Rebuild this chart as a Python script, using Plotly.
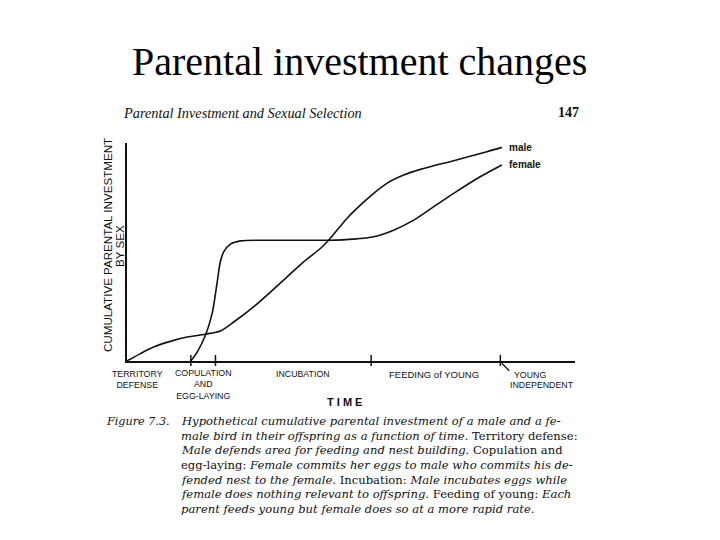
import plotly.graph_objects as go

# ---- data (time units: 0 = territory defense start, 100 = young independent) ----
male_x = [0, 3.6, 7.1, 11.6, 16.1, 21.0, 25.0, 28.6, 33.9, 42.9, 47.3, 51.8, 54.0, 58.9, 62.5, 66.1, 69.6, 74.1, 78.6, 87.5, 96.4, 100.4]
male_y = [0, 3.4, 6.4, 9.0, 11.0, 12.3, 13.8, 17.9, 24.8, 38.6, 45.5, 51.6, 55.4, 65.4, 71.5, 76.9, 81.5, 85.3, 87.9, 91.9, 96.0, 98.0]
female_x = [17.1, 18.8, 21.0, 22.8, 24.1, 25.0, 25.9, 27.7, 30.4, 38.4, 54.0, 60.7, 66.1, 71.4, 76.8, 82.1, 87.5, 94.6, 100.4]
female_y = [0, 4.1, 11.8, 21.7, 35.5, 45.5, 50.1, 53.6, 55.1, 55.4, 55.4, 55.9, 57.0, 60.0, 64.6, 70.7, 76.9, 84.5, 89.9]
tick_times = [17.1, 23.7, 65.4, 100]
series_labels = ["male", "female"]

OFF = 8  # default page body margin
W, H = 720 - 2 * OFF, 540 - 2 * OFF
ML, MT = 127 - OFF, 143 - OFF
PW, PH = 448, 218
MR = W - ML - PW
MB = H - MT - PH


def px(x, y):
    x -= OFF
    y -= OFF
    return (x - ML) / PW, (MT + PH - y) / PH


fig = go.Figure()
fig.add_trace(go.Scatter(x=male_x, y=male_y, mode="lines", line=dict(color="#111", width=1.6, shape="spline", smoothing=0.8),
                         name=series_labels[0], showlegend=False, hoverinfo="skip"))
fig.add_trace(go.Scatter(x=female_x, y=female_y, mode="lines", line=dict(color="#111", width=1.6, shape="spline", smoothing=0.8),
                         name=series_labels[1], showlegend=False, hoverinfo="skip"))

shapes = []
y_lo = -5 / PH
y_hi = 6 / PH
for t in tick_times:
    shapes.append(dict(type="line", xref="x", yref="paper", x0=t, x1=t, y0=y_lo, y1=y_hi,
                       line=dict(color="#111", width=1.5)))
# pointer to YOUNG INDEPENDENT
p0 = px(501.7, 363.3)
p1 = px(509.3, 370.7)
shapes.append(dict(type="line", xref="paper", yref="paper", x0=p0[0], y0=p0[1], x1=p1[0], y1=p1[1],
                   line=dict(color="#111", width=1.3)))

ann = []


def add(text, x, y, size, family="Liberation Sans", xanchor="center", yanchor="middle", align="center", angle=0, color="#111"):
    ax, ay = px(x, y)
    ann.append(dict(text=text, x=ax, y=ay, xref="paper", yref="paper", showarrow=False,
                    xanchor=xanchor, yanchor=yanchor, align=align, textangle=angle,
                    font=dict(size=size, family=family, color=color)))


serif = "Liberation Serif"
cap_font = "DejaVu Serif"
add("Parental investment changes", 359, 62, 40, family=serif, color="#000")
add("<i>Parental Investment and Sexual Selection</i>", 121, 113, 14.3, family=serif, xanchor="left")
add("<b>147</b>", 581, 113, 14, family=serif, xanchor="right")

add("CUMULATIVE PARENTAL INVESTMENT", 107, 245, 11.6, angle=-90)
add("BY SEX", 119.5, 246.5, 11.6, angle=-90)
add("<b>male</b>", 507, 147, 10, xanchor="left")
add("<b>female</b>", 507, 164, 10, xanchor="left")

add("TERRITORY<br>DEFENSE", 137, 379, 8.8)
add("COPULATION<br>AND<br>EGG-LAYING", 203, 384, 8.8)
add("INCUBATION", 303, 374, 8.8)
add("FEEDING of YOUNG", 434, 374, 9.5)
add("YOUNG", 512, 375, 8.8, xanchor="left")
add("INDEPENDENT", 508, 385, 8.8, xanchor="left")
add("<b>T I M E</b>", 344, 402, 11)

caption = [
    "<i>Hypothetical cumulative parental investment of a male and a fe-</i>",
    "<i>male bird in their offspring as a function of time.</i> Territory defense:",
    "<i>Male defends area for feeding and nest building.</i> Copulation and",
    "egg-laying: <i>Female commits her eggs to male who commits his de-</i>",
    "<i>fended nest to the female.</i> Incubation: <i>Male incubates eggs while</i>",
    "<i>female does nothing relevant to offspring.</i> Feeding of young: <i>Each</i>",
    "<i>parent feeds young but female does so at a more rapid rate.</i>",
]
add("<i>Figure 7.3.</i>", 104, 421, 11.2, family=cap_font, xanchor="left")
ys = [421, 435.7, 450.3, 465, 479.7, 494.3, 509]
for i, line in enumerate(caption):
    add(line, 179, ys[i], 11.6, family=cap_font, xanchor="left")

fig.update_layout(
    width=W, height=H, autosize=False,
    margin=dict(l=ML, r=MR, t=MT, b=MB),
    paper_bgcolor="white", plot_bgcolor="white",
    xaxis=dict(range=[0, 120], showgrid=False, zeroline=False, showticklabels=False, ticks="",
               showline=True, linecolor="#111", linewidth=1.5, fixedrange=True),
    yaxis=dict(range=[0, 100], showgrid=False, zeroline=False, showticklabels=False, ticks="",
               showline=True, linecolor="#111", linewidth=1.5, fixedrange=True),
    shapes=shapes, annotations=ann, showlegend=False,
)
fig.write_html("out.html")
